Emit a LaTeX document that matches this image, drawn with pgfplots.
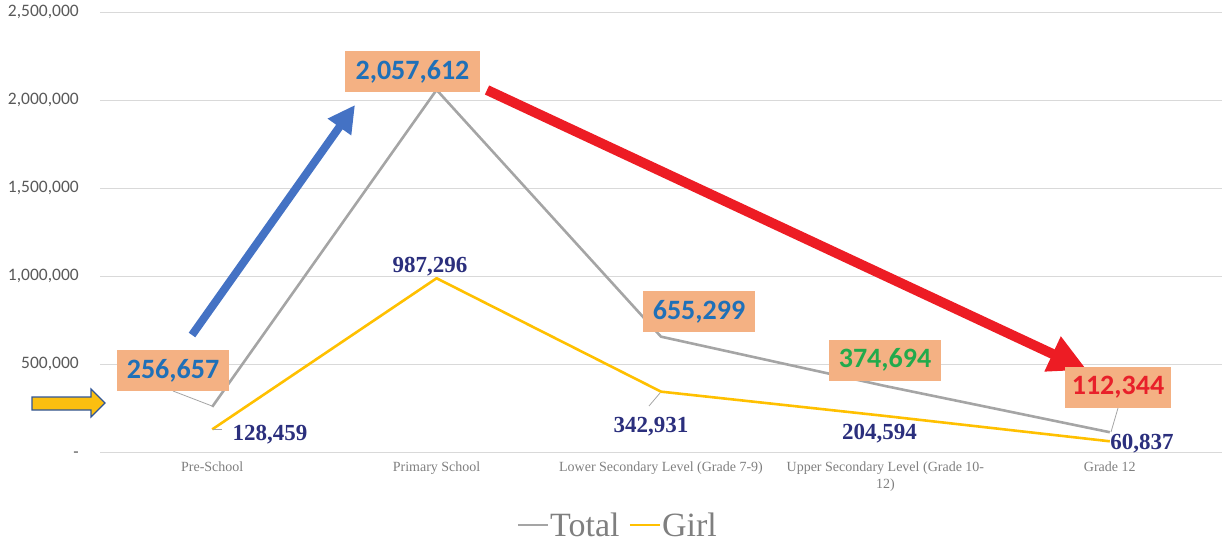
\documentclass[border=0pt]{standalone}
\usepackage{pgfplots}
\pgfplotsset{compat=1.18}
\usepackage{fontspec}
\setmainfont{Liberation Serif}
\newfontfamily\calibri{Carlito}
\usetikzlibrary{arrows.meta}
\definecolor{totalgray}{HTML}{A5A5A5}
\definecolor{girlyellow}{HTML}{FFC000}
\definecolor{gridgray}{HTML}{D9D9D9}
\definecolor{ygray}{HTML}{595959}
\definecolor{xgray}{HTML}{7F7F7F}
\definecolor{boxorange}{HTML}{F4B183}
\definecolor{lblue}{HTML}{1F70B8}
\definecolor{lgreen}{HTML}{22AA4C}
\definecolor{lred}{HTML}{E8202A}
\definecolor{navy}{HTML}{2B2F7D}
\definecolor{arrblue}{HTML}{4472C4}
\definecolor{arrred}{HTML}{ED1C24}
\definecolor{arryellow}{HTML}{FBBF10}
\definecolor{arrborder}{HTML}{2F5597}
\begin{document}
\begin{tikzpicture}[x=1pt,y=1pt]
\path[use as bounding box] (0,0) rectangle (1222,544);
\begin{axis}[
  at={(100pt,92pt)}, anchor=south west,
  scale only axis, width=1122pt, height=440pt,
  xmin=-0.5, xmax=4.5, ymin=0, ymax=2500000,
  axis line style={draw=none}, tick style={draw=none},
  ymajorgrids, grid style={color=gridgray, line width=0.9pt},
  ytick={0,500000,1000000,1500000,2000000,2500000},
  yticklabels={{\raisebox{-5pt}[0pt][0pt]{-}\hspace{8pt}},{500,000},{1,000,000},{1,500,000},{2,000,000},{2,500,000}},
  scaled y ticks=false,
  yticklabel style={anchor=east, inner sep=0pt, xshift=-21pt, text=ygray, font=\calibri\fontsize{17.5}{20}\selectfont},
  xtick={0,1,2,3,4},
  xticklabels={Pre-School, Primary School, Lower Secondary Level (Grade 7-9), {Upper Secondary Level (Grade 10-\\12)}, Grade 12},
  xticklabel style={anchor=north, align=center, inner sep=0pt, yshift=-10pt, text=xgray, font=\fontsize{14}{16.5}\selectfont},
  legend style={draw=none, fill=none, at={(0.461,-0.166)}, anchor=center, legend columns=-1,
    font=\fontsize{34}{38}\selectfont, text=xgray,
    nodes={inner sep=1pt},
    /tikz/every even column/.append style={column sep=8pt}},
  legend image code/.code={\draw[#1] (0pt,0pt) -- (30pt,0pt);},
]
\addplot[totalgray, line width=2.6pt, line join=round] coordinates {(0,256657) (1,2057612) (2,655299) (3,374694) (4,112344)};
\addlegendentry{Total}
\addplot[girlyellow, line width=2.6pt, line join=round] coordinates {(0,128459) (1,987296) (2,342931) (3,204594) (4,60837)};
\addlegendentry{Girl}
\end{axis}
% leader lines
\draw[totalgray, line width=0.8pt] (173,153) -- (212,138);
\draw[totalgray, line width=0.8pt] (213,115) -- (222,115);
\draw[totalgray, line width=0.8pt] (660,151) -- (649,138);
\draw[totalgray, line width=0.8pt] (1118,136) -- (1111,112);
% arrows
\draw[arrblue, line width=8pt, -{Triangle[length=27pt,width=27pt]}] (192,209) -- (355,439);
\draw[arrred, line width=10pt, -{Triangle[length=38pt,width=36pt]}] (487,454) -- (1087,174);
\draw[fill=arryellow, draw=arrborder, line width=1.2pt, line join=miter]
  (32,147) -- (91,147) -- (91,155) -- (105,141) -- (91,127) -- (91,134) -- (32,134) -- cycle;
% Total labels
\tikzset{tbox/.style={fill=boxorange, inner sep=0pt, minimum height=41pt, font=\calibri\bfseries\fontsize{28}{30}\selectfont}}
\node[tbox, minimum width=112pt, text=lblue] at (173,173.5) {256,657};
\node[tbox, minimum width=135pt, text=lblue] at (412.5,472.5) {2,057,612};
\node[tbox, minimum width=112pt, text=lblue] at (699,232.5) {655,299};
\node[tbox, minimum width=112pt, text=lgreen] at (885,184) {374,694};
\node[tbox, minimum width=106pt, text=lred] at (1118,157) {112,344};
% Girl labels
\tikzset{glab/.style={anchor=base, inner sep=0pt, text=navy, font=\bfseries\fontsize{23}{26}\selectfont}}
\node[glab] at (270,104) {128,459};
\node[glab] at (430,271) {987,296};
\node[glab] at (651,112) {342,931};
\node[glab] at (879.5,105) {204,594};
\node[glab] at (1142,95) {60,837};
\end{tikzpicture}
\end{document}
